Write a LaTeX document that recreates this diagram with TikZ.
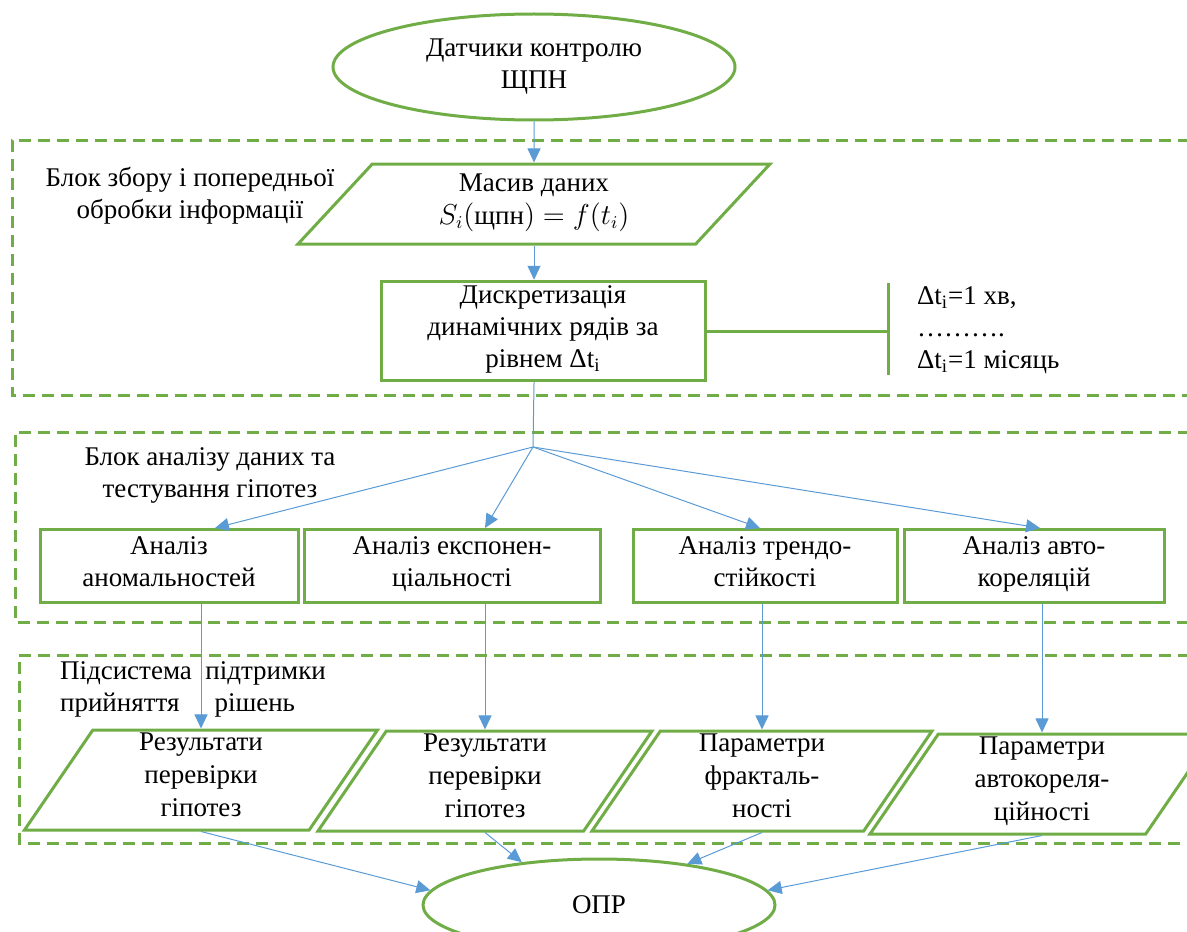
\documentclass[tikz,border=0pt]{standalone}
\usepackage{amsmath}
\usepackage{fontspec}
\setmainfont{Liberation Serif}
\definecolor{schemeGreen}{RGB}{112,173,71}
\definecolor{schemeBlue}{RGB}{91,155,213}
\usetikzlibrary{arrows.meta,shapes.geometric,calc}

\begin{document}
\begin{tikzpicture}[x=0.5pt, y=-0.5pt,
    every node/.style={font=\fontsize{13.5}{16}\selectfont, align=center},
    term/.style={ellipse, draw=schemeGreen, line width=1.5pt, inner sep=0pt},
    proc/.style={rectangle, draw=schemeGreen, line width=1.5pt, inner sep=2pt,
                 execute at begin node=\strut, execute at end node=\strut},
    data/.style={trapezium, trapezium left angle=55, trapezium right angle=125,
                 trapezium stretches body, draw=schemeGreen, line width=1.5pt,
                 inner sep=1pt, minimum height=50pt,
                 font=\fontsize{13.5}{16.5}\selectfont,
                 execute at begin node=\strut, execute at end node=\strut},
    block/.style={draw=schemeGreen, line width=1.5pt, dash pattern=on 6pt off 3.5pt},
    flow/.style={-{Triangle[length=7pt,width=6.5pt]}, draw=schemeBlue, line width=0.5pt}
  ]
  \useasboundingbox (0,0) rectangle (1187,931);

  \node[term, minimum width=201pt, minimum height=53pt] (sens) at (534,67)
    {Датчики контролю\\ЩПН};

  % block of collecting and preprocessing
  \draw[block] (1190,140) -- (12,140) -- (12,395) -- (1190,395);
  \node (lblCollect) at (190,196) {Блок збору і попередньої\\обробки інформації};
  \node[data, trapezium left angle=41, trapezium right angle=139,
        minimum width=236pt, minimum height=40pt] (mas) at (534,204)
    {Масив даних\\$S_i(\text{щпн})=f(t_i)$};
  \node[proc, minimum width=162pt, minimum height=49.5pt] (discr) at (543,331)
    {Дискретизація\\динамічних рядів за\\рівнем Δt\textsubscript{i}};
  \coordinate (barTop) at (888,283);
  \coordinate (barBot) at (888,375);
  \draw[schemeGreen, line width=1.5pt] (discr.east) -- (discr.east -| barTop);
  \draw[schemeGreen, line width=1.5pt] (barTop) -- (barBot);
  \node[anchor=west, align=left] (steps) at (910,330)
    {Δt\textsubscript{i}=1 хв,\\……….\\Δt\textsubscript{i}=1 місяць};

  % block of analysis
  \draw[block] (1190,432) -- (15,432) -- (15,622) -- (1190,622);
  \node (lblAnalysis) at (210,475) {Блок аналізу даних та\\тестування гіпотез};
  \node[proc, minimum width=129pt, minimum height=36.5pt] (an1) at (169,566)
    {Аналіз\\аномальностей};
  \node[proc, minimum width=148pt, minimum height=36.5pt] (an2) at (452,566)
    {Аналіз експонен-\\ціальності};
  \node[proc, minimum width=132pt, minimum height=36.5pt] (an3) at (765,566)
    {Аналіз трендо-\\стійкості};
  \node[proc, minimum width=130pt, minimum height=36.5pt] (an4) at (1034,566)
    {Аналіз авто-\\кореляцій};

  % decision support
  \draw[block] (1190,655) -- (19,655) -- (19,843) -- (1190,843);
  \node[anchor=west, align=left] (lblDecision) at (53,689)
    {Підсистема\hspace{0.5em}підтримки\\прийняття\hspace{1.3em}рішень};
  \node[data, minimum width=176.5pt] (res1) at (201,780)
    {Результати\\перевірки\\гіпотез};
  \node[data, minimum width=167pt] (res2) at (485,781)
    {Результати\\перевірки\\гіпотез};
  \node[data, minimum width=170pt] (res3) at (762,781)
    {Параметри\\фракталь-\\ності};
  \node[data, minimum width=172pt] (res4) at (1042,784)
    {Параметри\\автокореля-\\ційності};

  \node[term, minimum width=176pt, minimum height=46pt] (opr) at (599,905) {ОПР};

  % connectors
  \coordinate (fork) at (533,447);
  \draw[flow] (sens.south) -- (mas.north);
  \draw[flow] (mas.south) -- (mas.south |- discr.north);
  \draw[schemeBlue, line width=0.5pt] (mas.south |- discr.south) -- (fork);
  \draw[flow] (fork) -- ([xshift=23pt]an1.north);
  \draw[flow] (fork) -- ([xshift=16.5pt]an2.north);
  \draw[flow] (fork) -- ([xshift=-2.5pt]an3.north);
  \draw[flow] (fork) -- ([xshift=3pt]an4.north);
  \foreach \i in {1,...,4}
    \draw[flow] (res\i.north |- an\i.south) -- (res\i.north);
  \draw[flow] (res1.south) -- (opr.175);
  \draw[flow] (res2.south) -- (opr.151);
  \draw[flow] (res3.south) -- (opr.25);
  \draw[flow] (res4.south) -- (opr.5);
\end{tikzpicture}
\end{document}
